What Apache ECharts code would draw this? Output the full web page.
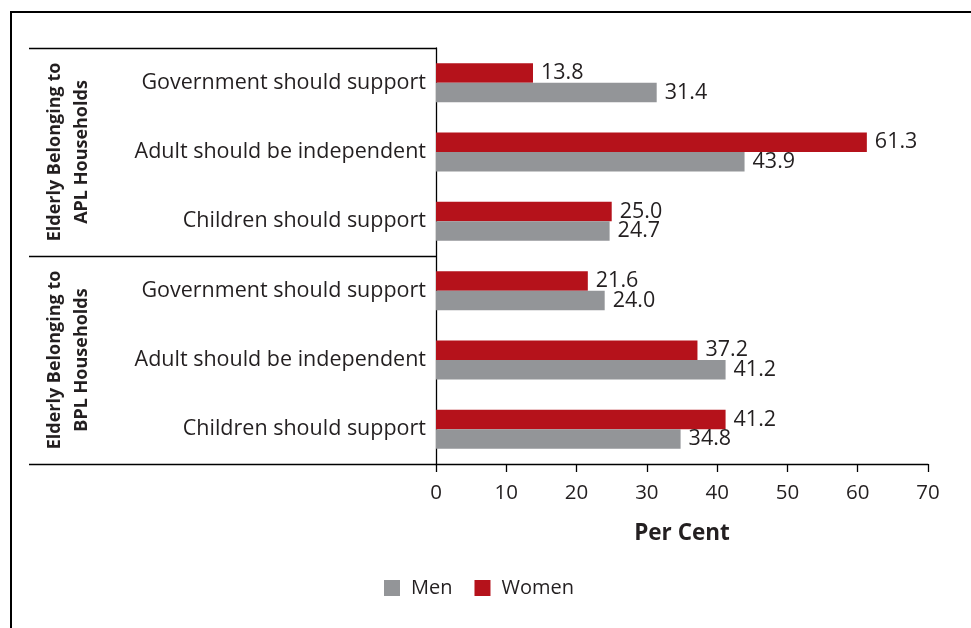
<!DOCTYPE html>
<html>
<head>
<meta charset="utf-8">
<script src="https://cdn.jsdelivr.net/npm/echarts@6/dist/echarts.min.js"></script>
<style>
  html, body { margin: 0; padding: 0; background: #fff; }
  #main { width: 971px; height: 628px; }
</style>
</head>
<body>
<div id="main"></div>
<script>
// groups of households, each with the same three opinions
var groups = ['APL', 'BPL'];
var groupTitles = ['Elderly Belonging to\nAPL Households', 'Elderly Belonging to\nBPL Households'];
var opinions = ['Government should support', 'Adult should be independent', 'Children should support'];

var women = [13.8, 61.3, 25.0, 21.6, 37.2, 41.2];
var men = [31.4, 43.9, 24.7, 24.0, 41.2, 34.8];

var xTicks = [0, 10, 20, 30, 40, 50, 60, 70];

var RED = '#b5121b';
var GREY = '#939598';
var INK = '#231f20';
var FONT = '"Open Sans", sans-serif';

// unique keys so the same opinion can repeat in both groups
var cats = [];
groups.forEach(function (g) {
  opinions.forEach(function (o) { cats.push(g + '|' + o); });
});

var chart = echarts.init(document.getElementById('main'));

var valueLabel = {
  show: true, position: 'right', distance: 8, fontSize: 21.5, color: INK, fontFamily: FONT,
  formatter: function (p) { return p.value.toFixed(1); }
};

var option = {
  animation: false,
  textStyle: { fontFamily: FONT },
  grid: { left: 436, right: 43, top: 48, bottom: 164 },
  legend: {
    data: ['Men', 'Women'],
    left: 384, top: 578, padding: 0,
    icon: 'rect',
    itemWidth: 16, itemHeight: 16, itemGap: 22,
    textStyle: { fontSize: 20, color: INK, fontFamily: FONT, padding: [0, 0, 0, 6] }
  },
  xAxis: {
    type: 'value',
    min: xTicks[0], max: xTicks[xTicks.length - 1], interval: 10,
    name: 'Per Cent',
    nameLocation: 'middle',
    nameGap: 58,
    nameTextStyle: { fontSize: 22.5, fontWeight: 'bold', color: INK, fontFamily: FONT },
    axisLine: { show: true, lineStyle: { color: '#000', width: 1.3 } },
    axisTick: { show: true, length: 8, lineStyle: { color: '#000', width: 1.3 } },
    axisLabel: { fontSize: 20.5, color: INK, margin: 19, fontFamily: FONT },
    splitLine: { show: false }
  },
  yAxis: {
    type: 'category',
    data: cats,
    inverse: true,
    axisLine: { show: true, lineStyle: { color: '#000', width: 1.3 } },
    axisTick: { show: false },
    axisLabel: {
      fontSize: 21.5, color: INK, margin: 10, fontFamily: FONT,
      formatter: function (v) { return v.split('|')[1]; }
    }
  },
  series: [
    {
      name: 'Women', type: 'bar', data: women,
      barWidth: 19.5, barGap: '0%',
      itemStyle: { color: RED },
      label: valueLabel
    },
    {
      name: 'Men', type: 'bar', data: men,
      barWidth: 19.5, barGap: '0%',
      itemStyle: { color: GREY },
      label: valueLabel
    }
  ]
};
chart.setOption(option);

// group separators and rotated group titles, placed from the axis scale
var yEdge = function (i) {
  var a = chart.convertToPixel({ yAxisIndex: 0 }, cats[0]);
  var b = chart.convertToPixel({ yAxisIndex: 0 }, cats[1]);
  var band = b - a;
  return a - band / 2 + band * i;
};
var axisX = chart.convertToPixel({ xAxisIndex: 0 }, 0);
var lineStyle = { stroke: '#000', lineWidth: 1.3 };
var gfx = [
  // outer frame (top and left)
  { type: 'line', shape: { x1: 10, y1: 12, x2: 971, y2: 12 }, style: { stroke: '#000', lineWidth: 2 } },
  { type: 'line', shape: { x1: 11, y1: 12, x2: 11, y2: 628 }, style: { stroke: '#000', lineWidth: 2 } }
];
for (var k = 0; k <= groups.length; k++) {
  var y = Math.round(yEdge(k * opinions.length)) + 0.5;
  gfx.push({ type: 'line', shape: { x1: 29, y1: y, x2: axisX, y2: y }, style: lineStyle });
}
groups.forEach(function (g, i) {
  var yc = (yEdge(i * opinions.length) + yEdge((i + 1) * opinions.length)) / 2;
  gfx.push({
    type: 'text', x: 68, y: yc, rotation: Math.PI / 2,
    style: {
      text: groupTitles[i], fill: INK,
      font: 'bold 18px ' + FONT,
      align: 'center', verticalAlign: 'middle', lineHeight: 27
    }
  });
});
chart.setOption({ graphic: gfx });
</script>
</body>
</html>
